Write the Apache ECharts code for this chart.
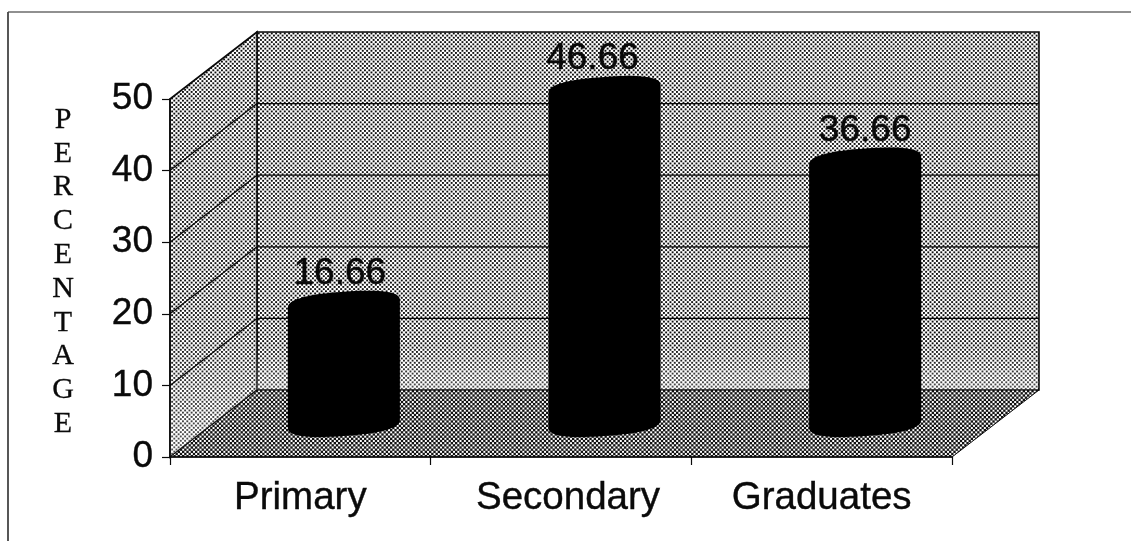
<!DOCTYPE html>
<html>
<head>
<meta charset="utf-8">
<title>Education level</title>
<style>
  html, body { margin: 0; padding: 0; background: #fff; }
  #chart { width: 1131px; height: 541px; }
</style>
<script src="https://cdn.jsdelivr.net/npm/echarts@6/dist/echarts.min.js"></script>
</head>
<body>
<div id="chart"></div>
<script>
// Chart data
const categories = ['Primary', 'Secondary', 'Graduates'];
const percentages = [16.66, 46.66, 36.66];
const valueTicks = [0, 10, 20, 30, 40, 50];
const axisTitle = 'PERCENTAGE';

// Oblique projection of the box, in pixels
const DEPTH_X = 87;
const DEPTH_Y = 67;
const INK = '#0a0a0a';
const SANS = '"Liberation Sans", Arial, sans-serif';
const SERIF = '"Liberation Serif", "Times New Roman", serif';
const TICK_FONT = 37;
const CATEGORY_FONT = 38.5;

// Small horizontal nudges for the value labels, per bar
const labelShift = [-4, -12, 0];

// Halftone screen used to fill the walls and the floor
function halftone(dotW, dotH) {
  const size = 13, pitch = size / 3;
  const c = document.createElement('canvas');
  c.width = c.height = size;
  const g = c.getContext('2d');
  g.fillStyle = '#fff';
  g.fillRect(0, 0, size, size);
  g.fillStyle = '#111';
  for (let i = -1; i <= 3; i++) {
    for (let j = -1; j <= 3; j++) {
      g.fillRect(i * pitch, j * pitch, dotW, dotH);
      g.fillRect(i * pitch + pitch / 2, j * pitch + pitch / 2, dotW, dotH);
    }
  }
  return c;
}
const wallFill = { image: halftone(1.9, 1.9), repeat: 'repeat' };
const floorFill = { image: halftone(2.35, 2.35), repeat: 'repeat' };

// Back wall, side wall and floor
function renderBox(params) {
  const r = params.coordSys;
  const x0 = r.x, x1 = r.x + r.width, yT = r.y, yB = r.y + r.height;
  const dx = DEPTH_X, dy = DEPTH_Y;
  const edge = { stroke: INK, lineWidth: 1.6 };
  const poly = (pts, style) => ({ type: 'polygon', shape: { points: pts }, style });
  const fade = (x, y, x2, y2) => ({
    type: 'linear', x, y, x2, y2, global: true,
    colorStops: [
      { offset: 0, color: 'rgba(255,255,255,0)' },
      { offset: 1, color: 'rgba(255,255,255,0.28)' }
    ]
  });
  return {
    type: 'group',
    children: [
      poly([[x0 + dx, yT - dy], [x1 + dx, yT - dy], [x1 + dx, yB - dy], [x0 + dx, yB - dy]],
        Object.assign({ fill: wallFill }, edge)),
      poly([[x0, yT], [x0 + dx, yT - dy], [x0 + dx, yB - dy], [x0, yB]],
        Object.assign({ fill: wallFill }, edge)),
      poly([[x0 + dx, yB - dy - 45], [x1 + dx - 1, yB - dy - 45], [x1 + dx - 1, yB - dy], [x0 + dx, yB - dy]],
        { fill: fade(0, yB - dy - 45, 0, yB - dy) }),
      poly([[x0, yB - 120], [x0 + dx, yB - dy - 80], [x0 + dx, yB - dy], [x0, yB]],
        { fill: fade(0, yB - 130, 0, yB - 10) }),
      poly([[x0, yB], [x1, yB], [x1 + dx, yB - dy], [x0 + dx, yB - dy]],
        { fill: floorFill, stroke: INK, lineWidth: 1 })
    ]
  };
}

// One horizontal rule on the back wall plus its diagonal on the side wall
function renderRule(params, api) {
  const r = params.coordSys;
  const y = api.coord([0, api.value(0)])[1];
  const style = { stroke: INK, lineWidth: 1.3, fill: null };
  return {
    type: 'group',
    children: [
      { type: 'line', shape: { x1: r.x, y1: y, x2: r.x + DEPTH_X, y2: y - DEPTH_Y }, style },
      { type: 'line', shape: { x1: r.x + DEPTH_X, y1: y - DEPTH_Y, x2: r.x + r.width + DEPTH_X, y2: y - DEPTH_Y }, style }
    ]
  };
}

// Upper or lower half of the slightly sheared end cap of a cylinder
function capOutline(cx, cy, a, b, upper) {
  const pts = [];
  const n = 48, power = 0.8, shear = 0.07;
  for (let k = 0; k <= n; k++) {
    const t = Math.PI * k / n;
    const c = Math.cos(t), s = Math.sin(t);
    const ex = a * Math.sign(c) * Math.pow(Math.abs(c), power);
    const ey = b * Math.pow(s, power);
    const x = upper ? cx - ex : cx + ex;
    const y = (upper ? cy - ey : cy + ey) - (x - cx) * shear;
    pts.push([x, y]);
  }
  return pts;
}

// A solid cylinder standing at mid depth of the box, with its value above it
function renderCylinder(params, api) {
  const i = api.value(0), v = api.value(1);
  const band = params.coordSys.width / categories.length;
  const halfW = band * 0.215, capH = 12.5;
  const top = api.coord([i, v]);
  const base = api.coord([i, 0]);
  const cx = top[0] + DEPTH_X / 2;
  const yTop = top[1] - DEPTH_Y / 2;
  const yBase = base[1] - DEPTH_Y / 2;
  const points = capOutline(cx, yTop, halfW, capH, true)
    .concat(capOutline(cx, yBase, halfW, capH, false));
  return {
    type: 'group',
    children: [
      { type: 'polygon', shape: { points }, style: { fill: '#000' } },
      {
        type: 'text',
        style: {
          text: v.toFixed(2),
          x: cx + labelShift[params.dataIndex],
          y: yTop - 12,
          align: 'center',
          verticalAlign: 'bottom',
          font: TICK_FONT + 'px ' + SANS,
          fill: INK,
          stroke: INK,
          lineWidth: 0.4
        }
      }
    ]
  };
}

const chart = echarts.init(document.getElementById('chart'), null, { renderer: 'canvas' });
const categoryStyle = { fontFamily: SANS, fontSize: CATEGORY_FONT, color: INK, textBorderColor: INK, textBorderWidth: 0.4 };
chart.setOption({
  animation: false,
  backgroundColor: '#fff',
  grid: { left: 170, right: 179, top: 99, bottom: 84 },
  xAxis: {
    type: 'category',
    data: categories,
    z: 3,
    axisLine: { lineStyle: { color: INK, width: 1.6 } },
    axisTick: { show: true, alignWithLabel: false, length: 8, lineStyle: { color: INK, width: 1.2 } },
    axisLabel: {
      margin: 22,
      interval: 0,
      color: INK,
      fontFamily: SANS,
      fontSize: CATEGORY_FONT,
      formatter: (name, idx) => '{c' + idx + '|' + name + '}',
      rich: {
        c0: categoryStyle,
        c1: Object.assign({ padding: [0, 0, 0, 14] }, categoryStyle),
        c2: categoryStyle
      }
    }
  },
  yAxis: {
    type: 'value',
    min: 0,
    max: 50,
    interval: 10,
    z: 3,
    splitLine: { show: false },
    axisLine: { show: true, lineStyle: { color: INK, width: 1.6 } },
    axisTick: { show: true, length: 8, lineStyle: { color: INK, width: 1.2 } },
    axisLabel: { margin: 17, padding: [3, 0, 0, 0], color: INK, fontFamily: SANS, fontSize: TICK_FONT, textBorderColor: INK, textBorderWidth: 0.4 }
  },
  graphic: [
    { type: 'line', silent: true, shape: { x1: 8, y1: 12, x2: 1131, y2: 12 }, style: { stroke: '#222', lineWidth: 1.2 } },
    { type: 'line', silent: true, shape: { x1: 8, y1: 12, x2: 8, y2: 541 }, style: { stroke: '#444', lineWidth: 1.8 } },
    {
      type: 'text',
      silent: true,
      style: {
        text: axisTitle.split('').join('\n'),
        x: 63,
        y: 272,
        align: 'center',
        verticalAlign: 'middle',
        font: '30px ' + SERIF,
        lineHeight: 33.8,
        fill: INK,
        stroke: INK,
        lineWidth: 0.3
      }
    }
  ],
  series: [
    { type: 'custom', name: 'box', z: 1, silent: true, coordinateSystem: 'cartesian2d', data: [[0, 0]], encode: { x: 0, y: 1 }, renderItem: renderBox },
    { type: 'custom', name: 'rules', z: 1.5, silent: true, coordinateSystem: 'cartesian2d', data: valueTicks.slice(1, 5).map(v => [v]), encode: { y: 0 }, renderItem: renderRule },
    { type: 'custom', name: 'Percentage', z: 2, silent: true, coordinateSystem: 'cartesian2d', data: percentages.map((v, i) => [i, v]), encode: { x: 0, y: 1 }, renderItem: renderCylinder }
  ]
});
</script>
</body>
</html>
